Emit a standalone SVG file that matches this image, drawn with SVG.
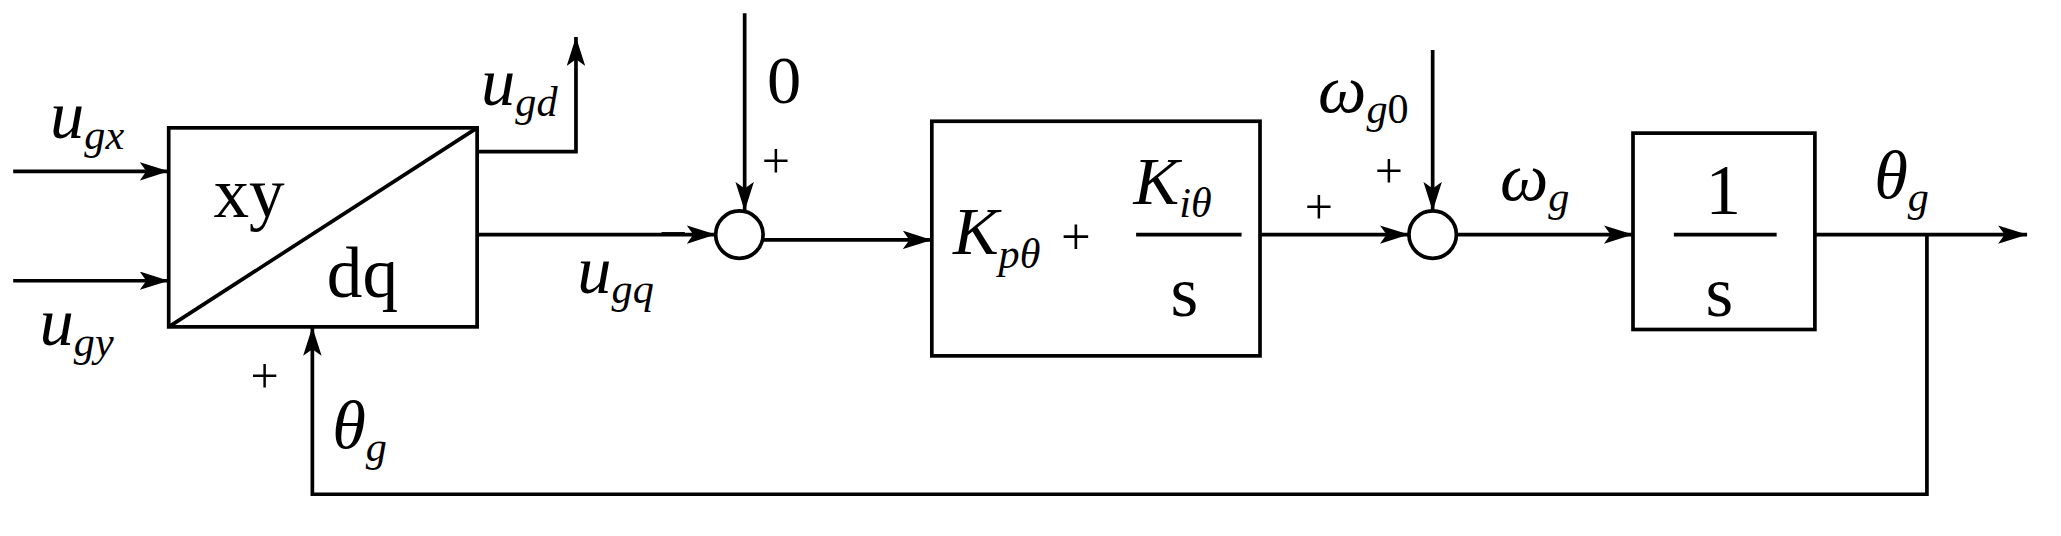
<svg xmlns="http://www.w3.org/2000/svg" width="2061" height="536" viewBox="0 0 2061 536">
<style>
.l{stroke:#000;stroke-width:2.8;fill:none}
.b{stroke:#000;stroke-width:2.8;fill:#fff}
text{font-family:"Liberation Serif","Times New Roman",serif;fill:#000}
.i{font-style:italic}
</style>
<defs><marker id="A" markerWidth="22" markerHeight="14" refX="22" refY="7" orient="auto" markerUnits="userSpaceOnUse" viewBox="0 0 22 14"><path d="M0,0L22,7L0,14L5,7Z" fill="#000"/></marker></defs>
<rect width="2061" height="536" fill="#fff"/>
<g transform="scale(1.318)">
<g id="connectors">
<path class="l" d="M10,130H128" marker-end="url(#A)"/>
<path class="l" d="M10,213H128" marker-end="url(#A)"/>
<path class="l" d="M362,115H437V28" marker-end="url(#A)"/>
<path class="l" d="M362,178H543" marker-end="url(#A)"/>
<path class="l" d="M565,10V160" marker-end="url(#A)"/>
<path class="l" d="M579,182H707" marker-end="url(#A)"/>
<path class="l" d="M956,178H1069" marker-end="url(#A)"/>
<path class="l" d="M1087,38V160" marker-end="url(#A)"/>
<path class="l" d="M1105,178H1239" marker-end="url(#A)"/>
<path class="l" d="M1377,178H1538" marker-end="url(#A)"/>
<path class="l" d="M1462,178V375H237V248" marker-end="url(#A)"/>
</g>
<g id="xy2dq"><rect class="b" x="128" y="97" width="234" height="151"/><path class="l" d="M128,248L362,97"/>
<text x="162" y="165" font-size="54">xy</text><text x="248" y="225" font-size="54">dq</text></g>
<g id="sum1"><circle class="b" cx="561" cy="178" r="18"/></g>
<g id="pi"><rect class="b" x="707" y="92" width="249" height="178"/>
<text x="723" y="193" font-size="52" class="i">K<tspan font-size="32" dy="10">pθ</tspan></text><text x="805" y="193" font-size="40">+</text>
<text x="860" y="155" font-size="52" class="i">K<tspan font-size="32" dy="10">iθ</tspan></text>
<path class="l" d="M862,178H942"/><text x="888" y="240" font-size="54">s</text></g>
<g id="sum2"><circle class="b" cx="1087" cy="178" r="18"/></g>
<g id="int"><rect class="b" x="1239" y="101" width="138" height="149"/>
<path class="l" d="M1270,178H1348"/><text x="1294" y="162" font-size="54">1</text><text x="1294" y="240" font-size="54">s</text></g>
<g id="labels">
<text x="38" y="105" font-size="52" class="i">u<tspan font-size="32" dy="8">gx</tspan></text>
<text x="30" y="262" font-size="52" class="i">u<tspan font-size="32" dy="8">gy</tspan></text>
<text x="365" y="80" font-size="52" class="i">u<tspan font-size="32" dy="8">gd</tspan></text>
<text x="438" y="222" font-size="52" class="i">u<tspan font-size="32" dy="8">gq</tspan></text>
<text x="252" y="340" font-size="52" class="i">θ<tspan font-size="32" dy="10">g</tspan></text>
<text x="1422" y="150" font-size="52" class="i">θ<tspan font-size="32" dy="10">g</tspan></text>
<text x="1000" y="85" font-size="52" class="i">ω<tspan font-size="32" dy="8">g</tspan><tspan font-size="32" font-style="normal">0</tspan></text>
<text x="1138" y="152" font-size="52" class="i">ω<tspan font-size="32" dy="8">g</tspan></text>
</g>
<g id="signs" font-size="38">
<text x="582" y="78" font-size="52">0</text>
<text x="578" y="135">+</text>
<text x="500" y="190">−</text>
<text x="990" y="170">+</text>
<text x="1043" y="143">+</text>
<text x="190" y="298">+</text>
</g>
</g>
</svg>
